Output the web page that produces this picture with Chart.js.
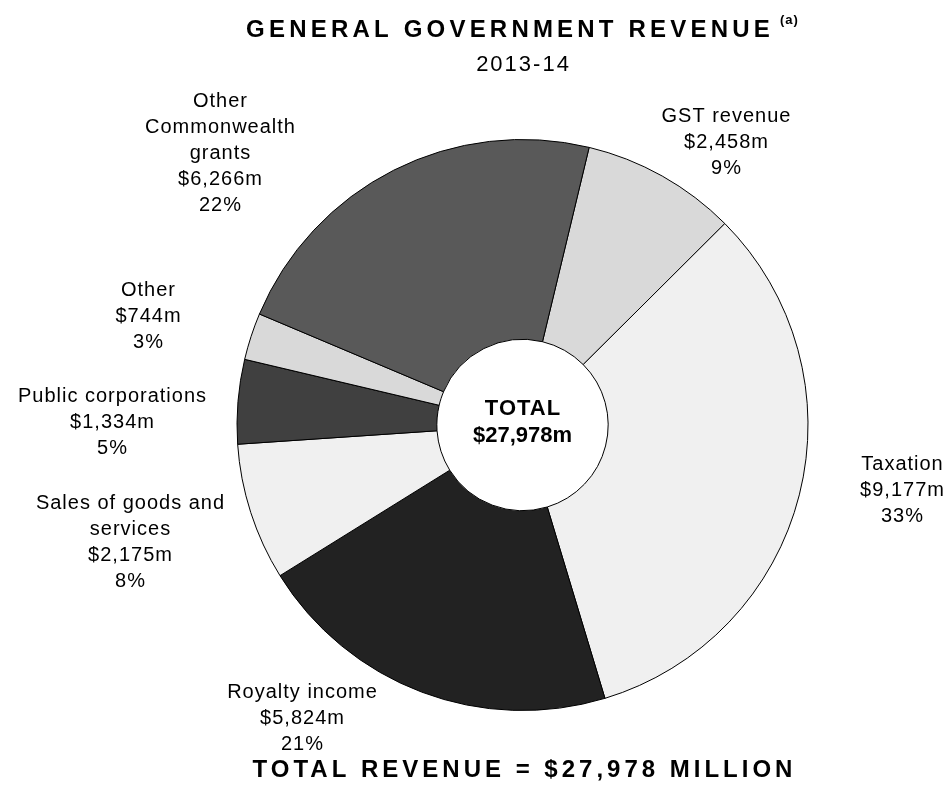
<!DOCTYPE html>
<html>
<head>
<meta charset="utf-8">
<title>General Government Revenue 2013-14</title>
<script src="https://cdn.jsdelivr.net/npm/chart.js@4.4.0/dist/chart.umd.min.js"></script>
<style>
  html, body { margin: 0; padding: 0; background: #fff; }
  canvas { display: block; }
</style>
</head>
<body>
<canvas id="revenueChart" width="952" height="801"></canvas>
<script>
// Revenue sources 2013-14 ($m), clockwise from GST revenue
const categories = ['GST revenue', 'Taxation', 'Royalty income', 'Sales of goods and services',
    'Public corporations', 'Other', 'Other Commonwealth grants'];
const revenue = [2458, 9177, 5824, 2175, 1334, 744, 6266];
const shares = [9, 33, 21, 8, 5, 3, 22];
const totalRevenue = 27978;

// How each category name wraps in its label
const labelLines = [
    ['GST revenue'],
    ['Taxation'],
    ['Royalty income'],
    ['Sales of goods and', 'services'],
    ['Public corporations'],
    ['Other'],
    ['Other', 'Commonwealth', 'grants']
];

const sliceColours = ['#d9d9d9', '#f0f0f0', '#222222', '#f0f0f0', '#404040', '#d9d9d9', '#595959'];

// Centre of the first line of each label
const labelSpots = [
    [726, 116], [902, 464], [302, 692], [130, 503], [112, 396], [148, 290], [220, 101]
];

function money(v) {
    return '$' + v.toLocaleString('en-US');
}

function spacedText(ctx, text, x, y, spacing) {
    ctx.letterSpacing = spacing + 'px';
    // letterSpacing adds a gap after the last glyph too, so shift back half of it
    ctx.fillText(text, x + spacing / 2, y);
    ctx.letterSpacing = '0px';
}

const textPlugin = {
    id: 'revenueText',
    afterDraw(chart) {
        const ctx = chart.ctx;
        const arc = chart.getDatasetMeta(0).data[0];
        const cx = arc.x, cy = arc.y;
        ctx.save();
        ctx.fillStyle = '#000';
        ctx.textBaseline = 'middle';

        // Title with its footnote marker
        const titleFont = 'bold 24px "Liberation Sans", Arial, sans-serif';
        const supFont = 'bold 13px "Liberation Sans", Arial, sans-serif';
        const main = 'GENERAL GOVERNMENT REVENUE';
        const sup = '(a)';
        ctx.font = titleFont;
        ctx.letterSpacing = '4.2px';
        const mainW = ctx.measureText(main).width;
        ctx.font = supFont;
        ctx.letterSpacing = '1px';
        const supW = ctx.measureText(sup).width;
        const x0 = cx - (mainW + 6 + supW) / 2;
        ctx.textAlign = 'left';
        ctx.font = titleFont;
        ctx.letterSpacing = '4.2px';
        ctx.fillText(main, x0, 30);
        ctx.font = supFont;
        ctx.letterSpacing = '1px';
        ctx.fillText(sup, x0 + mainW + 6, 20);
        ctx.letterSpacing = '0px';

        ctx.textAlign = 'center';
        ctx.font = '22px "Liberation Sans", Arial, sans-serif';
        spacedText(ctx, '2013-14', cx, 65, 2);

        // Total in the hole
        ctx.font = 'bold 22px "Liberation Sans", Arial, sans-serif';
        spacedText(ctx, 'TOTAL', cx, cy - 16, 1);
        spacedText(ctx, money(totalRevenue) + 'm', cx, cy + 11, 0);

        // Slice labels: name, amount, share
        ctx.font = '20px "Liberation Sans", Arial, sans-serif';
        labelLines.forEach((lines, i) => {
            const rows = lines.concat([money(revenue[i]) + 'm', shares[i] + '%']);
            const [lx, ly] = labelSpots[i];
            rows.forEach((row, j) => spacedText(ctx, row, lx, ly + j * 26, 1));
        });

        // Footer total
        ctx.font = 'bold 24px "Liberation Sans", Arial, sans-serif';
        spacedText(ctx, 'TOTAL REVENUE = ' + money(totalRevenue) + ' MILLION', cx, 770, 4);
        ctx.restore();
    }
};

const chart = document.getElementById('revenueChart');
new Chart(chart, {
    type: 'doughnut',
    data: {
        labels: categories,
        datasets: [{
            data: revenue,
            backgroundColor: sliceColours,
            borderColor: '#000',
            borderWidth: 1
        }]
    },
    options: {
        responsive: false,
        animation: false,
        devicePixelRatio: 1,
        rotation: 13.5,
        cutout: '30%',
        layout: {
            padding: { left: 236, right: 143, top: 139, bottom: 90 }
        },
        plugins: {
            legend: { display: false },
            tooltip: { enabled: false }
        }
    },
    plugins: [textPlugin]
});
</script>
</body>
</html>
